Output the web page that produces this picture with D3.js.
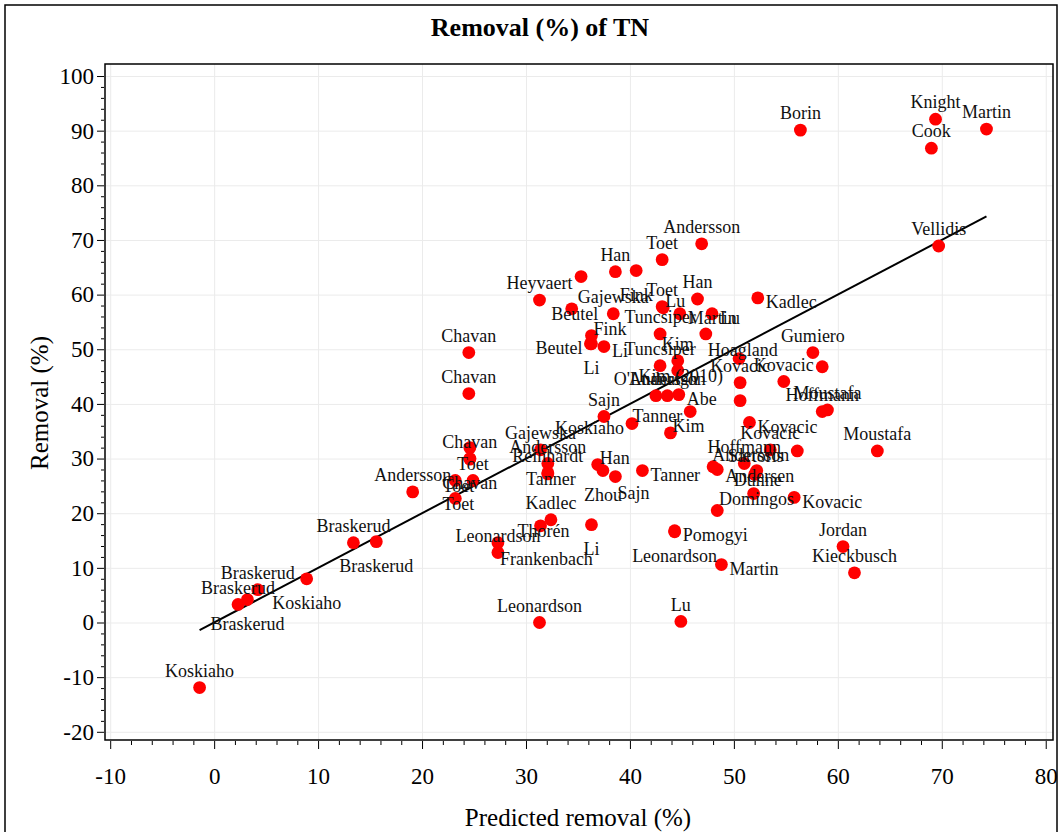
<!DOCTYPE html>
<html>
<head><meta charset="utf-8">
<style>
  body { margin: 0; background: #fff; }
  svg text { font-family: "Liberation Serif", "Times New Roman", serif; fill: #000; }
  .grid line { stroke: #ebebeb; stroke-width: 1; }
  .grid path { display: none; }
  .axis path { display: none; }
  .axis line { stroke: #000; }
  .axis text { font-size: 23px; }
  .lbl { font-size: 18px; fill: #111; }
</style>
</head>
<body>
<script src="https://d3js.org/d3.v7.min.js"></script>
<script>
var width = 1061, height = 832;

// study names (empty = label dropped in the original)
var names = ["Knight","Martin","Cook","Borin","Vellidis","Andersson","Toet","","Han","Fink",
  "Heyvaert","Beutel","Gajewska","Toet","Lu","Han","Kadlec","Martin","Lu","Tuncsiper",
  "Hoagland","Fink","Beutel","Li","Li","Gumiero","","Kovacic","","Kovacic",
  "","Hoffmann","Moustafa","Moustafa","Tuncsiper","Kim","Kim (2010)","O'Luanaigh","Andersson","Abe",
  "Sajn","Koskiaho","Tanner","Kim","Kovacic","Kovacic","Andersson","Hoffmann","Sartoris","Andersen",
  "Dunne","Domingos","Kovacic","","","","Pomogyi","Leonardson","Martin","Leonardson",
  "Lu","Jordan","Kieckbusch","Han","Zhou","Sajn","Tanner","Gajewska","Andersson","Reinhardt",
  "Tanner","Kadlec","Thorén","Li","Frankenbach","Leonardson","Chavan","Chavan","","Chavan",
  "Chavan","Toet","Toet","Toet","Andersson","Braskerud","Braskerud","Koskiaho","Braskerud","Braskerud",
  "Braskerud","Koskiaho"];

var predicted = [69.4,74.3,69.0,56.4,69.7,46.9,43.1,35.3,38.6,40.6,
  31.3,34.4,38.4,43.1,43.2,46.5,52.3,44.8,47.9,42.9,
  47.3,36.3,36.2,36.3,37.5,57.6,58.5,54.8,50.5,50.6,
  50.6,58.5,59.0,63.8,42.9,44.6,44.6,42.5,43.6,44.7,
  37.5,40.2,45.8,43.9,51.5,53.5,56.1,51.0,52.1,52.2,
  52.0,51.9,55.8,48.0,48.4,48.4,44.3,44.3,48.8,31.3,
  44.9,60.5,61.6,36.9,37.4,38.6,41.2,31.4,32.1,32.1,
  32.1,32.4,31.4,36.3,27.3,27.3,24.5,24.5,24.6,24.6,
  24.6,24.9,23.2,23.2,19.1,13.4,15.6,8.9,4.2,3.2,
  2.3,-1.4];

var removal = [92.1,90.3,86.8,90.1,68.9,69.3,66.4,63.3,64.2,64.4,
  59.0,57.4,56.5,57.8,57.6,59.2,59.4,56.5,56.5,52.8,
  52.8,52.5,51.0,51.0,50.5,49.4,46.8,44.1,48.3,43.9,
  40.6,38.6,38.9,31.4,47.0,47.9,46.1,41.5,41.5,41.7,
  37.7,36.4,38.6,34.7,36.6,31.6,31.4,29.1,27.4,27.8,
  27.1,23.6,22.9,28.5,28.0,20.5,16.8,16.6,10.6,0.0,
  0.2,13.9,9.1,28.9,27.8,26.7,27.8,31.6,29.1,27.4,
  27.2,18.8,17.7,17.9,14.6,12.8,49.4,41.9,32.0,30.0,
  29.9,26.0,26.0,22.7,23.9,14.6,14.8,8.0,6.0,4.2,
  3.3,-11.9];

// which side of its dot each label sits on
var labelSide = ["t","t","t","t","t","t","t","t","t","b",
  "t","c","t","t","tr","t","r","r","r","t",
  "br","tr","l","b","r","t","t","t","t","t",
  "t","t","t","t","t","t","c","t","t","r",
  "t","l","l","tr","r","t","l","t","t","c",
  "c","c","r","t","t","t","r","b","r","t",
  "t","t","t","tr","b","br","r","t","t","t",
  "c","t","c","b","br","t","t","t","t","t",
  "b","t","c","c","t","t","b","b","t","b",
  "t","t"];

var xTicks = [-10,0,10,20,30,40,50,60,70,80];
var yTicks = [-20,-10,0,10,20,30,40,50,60,70,80,90,100];

var pts = names.map(function(n, i) {
  return {name: n, x: predicted[i], y: removal[i], side: labelSide[i]};
});

var svg = d3.select("body").append("svg")
    .attr("width", width)
    .attr("height", height);

// outer border
svg.append("rect")
    .attr("x", 5).attr("y", 5)
    .attr("width", 1052).attr("height", 840)
    .attr("fill", "none").attr("stroke", "#000").attr("stroke-width", 1.5);

var pl = 105, pr = 1053, pt = 64, pb = 740;

var x = d3.scaleLinear().domain([-10.5, 80.7]).range([pl, pr]);
var y = d3.scaleLinear().domain([-21.5, 102.2]).range([pb, pt]);

// grid
svg.append("g").attr("class", "grid")
    .attr("transform", "translate(0," + pb + ")")
    .call(d3.axisBottom(x).tickValues(xTicks).tickSize(-(pb - pt)).tickFormat(""));
svg.append("g").attr("class", "grid")
    .attr("transform", "translate(" + pl + ",0)")
    .call(d3.axisLeft(y).tickValues(yTicks).tickSize(-(pr - pl)).tickFormat(""));

// minor ticks every 2
var xMinor = d3.range(-10, 81, 2).filter(function(v) { return v % 10 !== 0; });
var yMinor = d3.range(-20, 101, 2).filter(function(v) { return v % 10 !== 0; });

svg.append("g").attr("class", "axis")
    .attr("transform", "translate(0," + (pb + 1) + ")")
    .call(d3.axisBottom(x).tickValues(xMinor).tickSize(4).tickFormat(""));
svg.append("g").attr("class", "axis")
    .attr("transform", "translate(" + (pl - 1) + ",0)")
    .call(d3.axisLeft(y).tickValues(yMinor).tickSize(3).tickFormat(""));

var fmt = function(v) { return String(v); };
svg.append("g").attr("class", "axis")
    .attr("transform", "translate(0," + (pb + 1) + ")")
    .call(d3.axisBottom(x).tickValues(xTicks).tickSize(8).tickPadding(19).tickFormat(fmt));
svg.append("g").attr("class", "axis")
    .attr("transform", "translate(" + (pl - 1) + ",0)")
    .call(d3.axisLeft(y).tickValues(yTicks).tickSize(7).tickPadding(3).tickFormat(fmt));

// plot frame
svg.append("rect")
    .attr("x", pl).attr("y", pt)
    .attr("width", pr - pl).attr("height", pb - pt)
    .attr("fill", "none").attr("stroke", "#000").attr("stroke-width", 1.5);

// 1:1 line over the data range
var ext = d3.extent(predicted);
svg.append("path")
    .datum([[ext[0], ext[0]], [ext[1], ext[1]]])
    .attr("d", d3.line().x(function(d) { return x(d[0]); }).y(function(d) { return y(d[1]); }))
    .attr("stroke", "#000").attr("stroke-width", 2).attr("fill", "none");

svg.append("g").selectAll("circle")
    .data(pts)
  .enter().append("circle")
    .attr("cx", function(d) { return x(d.x); })
    .attr("cy", function(d) { return y(d.y); })
    .attr("r", 6.4)
    .attr("fill", "#ff0000");

var place = {
  t:  {dx: 0,  dy: -17, a: "middle"},
  b:  {dx: 0,  dy: 24,  a: "middle"},
  l:  {dx: -8, dy: 4,   a: "end"},
  r:  {dx: 8,  dy: 4,   a: "start"},
  tr: {dx: 2,  dy: -7,  a: "start"},
  br: {dx: 2,  dy: 16,  a: "start"},
  c:  {dx: 3,  dy: 5,   a: "middle"}
};

svg.append("g").selectAll("text")
    .data(pts.filter(function(d) { return d.name !== ""; }))
  .enter().append("text")
    .attr("class", "lbl")
    .attr("x", function(d) { return x(d.x) + place[d.side].dx; })
    .attr("y", function(d) { return y(d.y) + place[d.side].dy; })
    .attr("dy", "0.35em")
    .attr("text-anchor", function(d) { return place[d.side].a; })
    .text(function(d) { return d.name; });

// titles
svg.append("text")
    .attr("x", 540).attr("y", 36)
    .attr("text-anchor", "middle")
    .style("font-size", "26px").style("font-weight", "bold")
    .text("Removal (%) of TN");

svg.append("text")
    .attr("x", 578).attr("y", 826)
    .attr("text-anchor", "middle")
    .style("font-size", "25px")
    .text("Predicted removal (%)");

svg.append("text")
    .attr("transform", "translate(48,403) rotate(-90)")
    .attr("text-anchor", "middle")
    .style("font-size", "25px")
    .text("Removal (%)");
</script>
</body>
</html>
